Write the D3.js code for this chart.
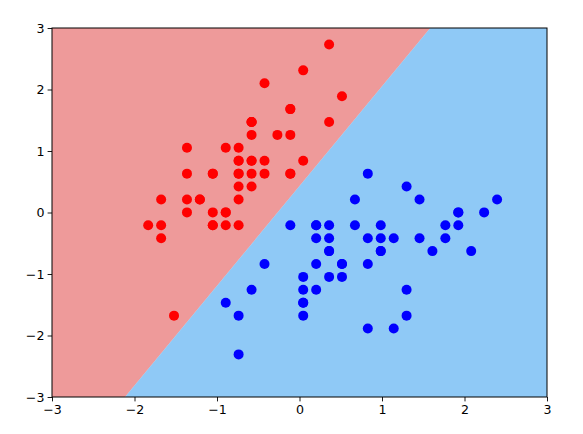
<!DOCTYPE html>
<html>
<head>
<meta charset="utf-8">
<script src="https://cdn.jsdelivr.net/npm/d3@7"></script>
<style>
  html, body { margin: 0; padding: 0; background: #fff; }
  svg { display: block; }
  .tick text { font-family: "DejaVu Sans", sans-serif; font-size: 12.6px; fill: #000; }
</style>
</head>
<body>
<svg id="chart" width="583" height="434"></svg>
<script>
// ---- Data ----
const class0X = [-0.581,-0.894,-1.208,-1.364,-0.738,-0.111,-1.364,-0.738,-1.677,-0.894,
                 -0.111,-1.051,-1.051,-1.834,0.515,0.359,-0.111,-0.581,0.359,-0.581,
                 -0.111,-0.581,-1.364,-0.581,-1.051,-0.738,-0.738,-0.424,-0.424,-1.208,
                 -1.051,-0.111,-0.424,0.045,-0.894,-0.738,0.045,-0.894,-1.677,-0.581,
                 -0.738,-1.521,-1.677,-0.738,-0.581,-1.051,-0.581,-1.364,-0.268,-0.738];
const class0Y = [0.842,-0.208,0.212,0.002,1.052,1.681,0.632,0.632,-0.418,0.002,
                 1.262,0.632,-0.208,-0.208,1.891,2.731,1.681,0.842,1.471,1.471,
                 0.632,1.262,1.052,0.422,0.632,-0.208,0.632,0.842,0.632,0.212,
                 0.002,0.632,2.101,2.311,0.002,0.212,0.842,1.052,-0.208,0.632,
                 0.842,-1.677,0.212,0.842,1.471,-0.208,1.471,0.212,1.262,0.422];
const class1X = [2.395,1.455,2.238,0.045,1.611,0.359,1.298,-0.894,1.768,-0.424,
                 -0.738,0.672,0.828,0.985,0.202,1.925,0.202,0.515,1.142,0.202,
                 0.672,0.985,1.298,0.985,1.455,1.768,2.081,1.925,0.828,0.359,
                 0.045,0.045,0.515,0.828,-0.111,0.828,1.925,1.298,0.202,0.045,
                 0.045,0.985,0.515,-0.738,0.202,0.359,0.359,1.142,-0.581,0.359];
const class1Y = [0.212,0.212,0.002,-1.677,-0.628,-0.628,0.422,-1.467,-0.418,-0.838,
                 -2.307,-0.208,-1.887,-0.418,-0.418,0.002,-0.208,-0.838,-1.887,-1.257,
                 0.212,-0.628,-1.257,-0.628,-0.418,-0.208,-0.628,-0.208,-0.418,-1.047,
                 -1.467,-1.467,-0.838,-0.838,-0.208,0.632,0.002,-1.677,-0.208,-1.257,
                 -1.047,-0.208,-1.047,-1.677,-0.838,-0.208,-0.418,-0.418,-1.257,-0.628];
// decision boundary endpoints (x at y = -3 and y = 3)
const boundaryX = [-2.115, 1.585];
const boundaryY = [-3, 3];
const xTicks = [-3, -2, -1, 0, 1, 2, 3];
const yTicks = [-3, -2, -1, 0, 1, 2, 3];
const regionColors = ["#EE9A9A", "#8FC9F6"];
const pointColors = ["#FF0000", "#0000FF"];

// ---- Layout ----
const svg = d3.select("#chart");
const mLeft = 52, mTop = 28, mRight = 547, mBottom = 397;
const x = d3.scaleLinear().domain([-3, 3]).range([mLeft, mRight]);
const y = d3.scaleLinear().domain([-3, 3]).range([mBottom, mTop]);

svg.append("defs").append("clipPath").attr("id", "clip")
  .append("rect").attr("x", mLeft).attr("y", mTop)
  .attr("width", mRight - mLeft).attr("height", mBottom - mTop);

const g = svg.append("g").attr("clip-path", "url(#clip)");
const line = d3.line().x(d => x(d[0])).y(d => y(d[1]));

const redRegion = [[-3, -3], [boundaryX[0], boundaryY[0]], [boundaryX[1], boundaryY[1]], [-3, 3]];
const blueRegion = [[boundaryX[0], boundaryY[0]], [3, -3], [3, 3], [boundaryX[1], boundaryY[1]]];
g.append("path").attr("d", line(redRegion) + "Z").attr("fill", regionColors[0])
  .attr("stroke", regionColors[0]).attr("stroke-width", 0.5);
g.append("path").attr("d", line(blueRegion) + "Z").attr("fill", regionColors[1]);

// points
const pts0 = class0X.map((v, i) => [v, class0Y[i]]);
const pts1 = class1X.map((v, i) => [v, class1Y[i]]);
g.selectAll("circle.c0").data(pts0).enter().append("circle")
  .attr("class", "c0").attr("cx", d => x(d[0])).attr("cy", d => y(d[1]))
  .attr("r", 5).attr("fill", pointColors[0]);
g.selectAll("circle.c1").data(pts1).enter().append("circle")
  .attr("class", "c1").attr("cx", d => x(d[0])).attr("cy", d => y(d[1]))
  .attr("r", 5).attr("fill", pointColors[1]);

// axes
const fmt = d => (d < 0 ? "\u2212" + Math.abs(d) : String(d));
const xAxis = svg.append("g").attr("transform", `translate(0,${mBottom})`)
  .call(d3.axisBottom(x).tickValues(xTicks).tickFormat(fmt).tickSize(4.4).tickPadding(3.2));
const yAxis = svg.append("g").attr("transform", `translate(${mLeft},0)`)
  .call(d3.axisLeft(y).tickValues(yTicks).tickFormat(fmt).tickSize(4.4).tickPadding(3.2));
[xAxis, yAxis].forEach(a => {
  a.select(".domain").remove();
  a.selectAll(".tick line").attr("stroke", "#000").attr("stroke-width", 0.9);
});

// frame
svg.append("rect").attr("x", mLeft).attr("y", mTop)
  .attr("width", mRight - mLeft).attr("height", mBottom - mTop)
  .attr("fill", "none").attr("stroke", "#000").attr("stroke-width", 1);
</script>
</body>
</html>
